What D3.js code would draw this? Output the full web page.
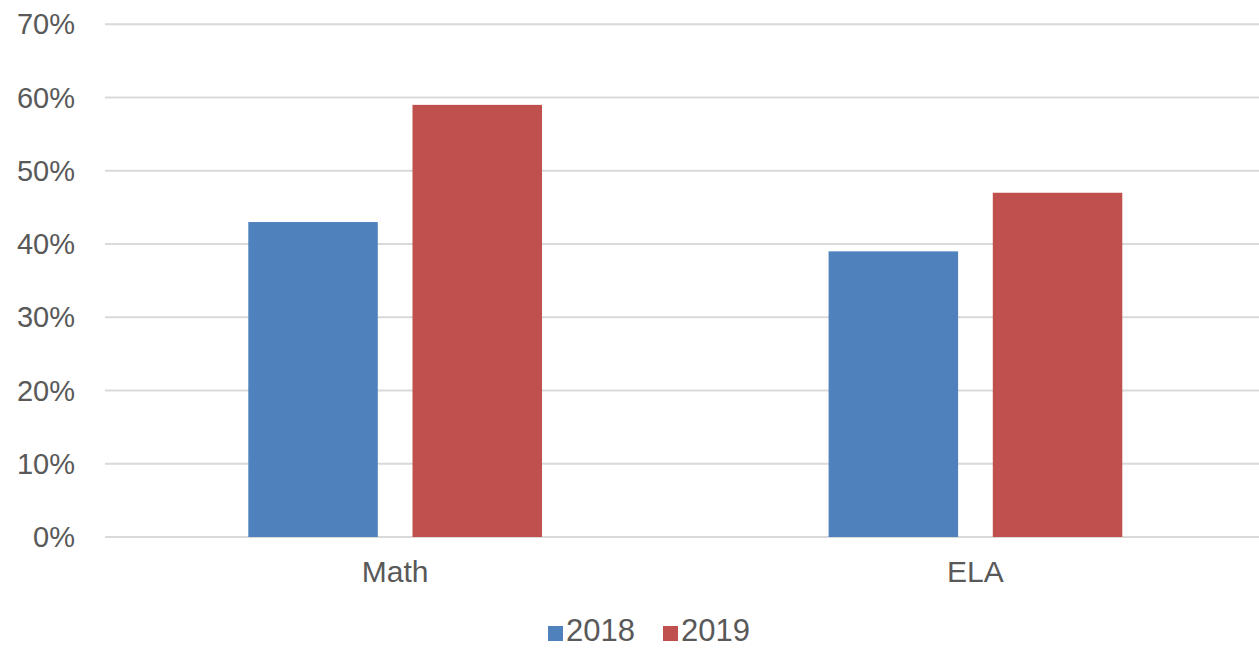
<!DOCTYPE html>
<html>
<head>
<meta charset="utf-8">
<script src="https://cdn.jsdelivr.net/npm/d3@7"></script>
<style>
  html, body { margin: 0; padding: 0; background: #fff; }
  svg { display: block; font-family: "Liberation Sans", Arial, sans-serif; }
</style>
</head>
<body>
<svg id="chart" width="1259" height="648"></svg>
<script>
const categories = ["Math", "ELA"];
const seriesNames = ["2018", "2019"];
const values2018 = [0.43, 0.39];
const values2019 = [0.59, 0.47];
const yTicks = [0, 0.1, 0.2, 0.3, 0.4, 0.5, 0.6, 0.7];
const colors = ["#4F81BD", "#C0504D"];

const seriesValues = [values2018, values2019];
const data = categories.map((c, i) => ({
  category: c,
  values: seriesNames.map((s, j) => ({ series: s, value: seriesValues[j][i], color: colors[j] }))
}));

const svg = d3.select("#chart");
const W = 1259, H = 648;
const plotLeft = 105, plotRight = 1265.6, plotTop = 24.3, plotBottom = 537;

const y = d3.scaleLinear().domain([0, 0.7]).range([plotBottom, plotTop]);
const x0 = d3.scaleBand().domain(categories).range([plotLeft, plotRight]).paddingInner(0).paddingOuter(0);
const groupW = 293.7;
const x1 = d3.scaleBand().domain(seriesNames).range([0, groupW]).paddingInner(0.2113).paddingOuter(0);
const groupOffset = (x0.bandwidth() - groupW) / 2;

// gridlines
svg.append("g").selectAll("line").data(yTicks).join("line")
  .attr("x1", plotLeft).attr("x2", W)
  .attr("y1", d => y(d)).attr("y2", d => y(d))
  .attr("stroke", "#d9d9d9").attr("stroke-width", 2);

// y axis labels
const yAxis = d3.axisLeft(y).tickValues(yTicks).tickFormat(d3.format(".0%")).tickSize(0).tickPadding(0);
const yg = svg.append("g").attr("transform", `translate(75,0)`).call(yAxis);
yg.select(".domain").remove();
yg.selectAll("text").attr("fill", "#595959").attr("font-size", 29).attr("font-family", "Liberation Sans, Arial, sans-serif").attr("dy", "0.33em");

// bars
const groups = svg.append("g").selectAll("g").data(data).join("g")
  .attr("transform", d => `translate(${x0(d.category) + groupOffset},0)`);
groups.selectAll("rect").data(d => d.values).join("rect")
  .attr("x", d => x1(d.series))
  .attr("width", x1.bandwidth())
  .attr("y", d => y(d.value))
  .attr("height", d => y(0) - y(d.value))
  .attr("fill", d => d.color);

// x axis labels
const xAxis = d3.axisBottom(x0).tickSize(0).tickPadding(0);
const xg = svg.append("g").attr("transform", `translate(0,${plotBottom})`).call(xAxis);
xg.select(".domain").remove();
xg.selectAll("text").attr("fill", "#595959").attr("font-size", 30).attr("font-family", "Liberation Sans, Arial, sans-serif").attr("dy", null).attr("y", 45);

// legend
const legendItems = [
  { name: seriesNames[0], color: colors[0], x: 548 },
  { name: seriesNames[1], color: colors[1], x: 663 }
];
const lg = svg.append("g");
lg.selectAll("rect").data(legendItems).join("rect")
  .attr("x", d => d.x).attr("y", 626).attr("width", 15).attr("height", 15)
  .attr("fill", d => d.color);
lg.selectAll("text").data(legendItems).join("text")
  .attr("x", d => d.x + 18).attr("y", 641)
  .attr("fill", "#595959").attr("font-size", 31)
  .text(d => d.name);
</script>
</body>
</html>
